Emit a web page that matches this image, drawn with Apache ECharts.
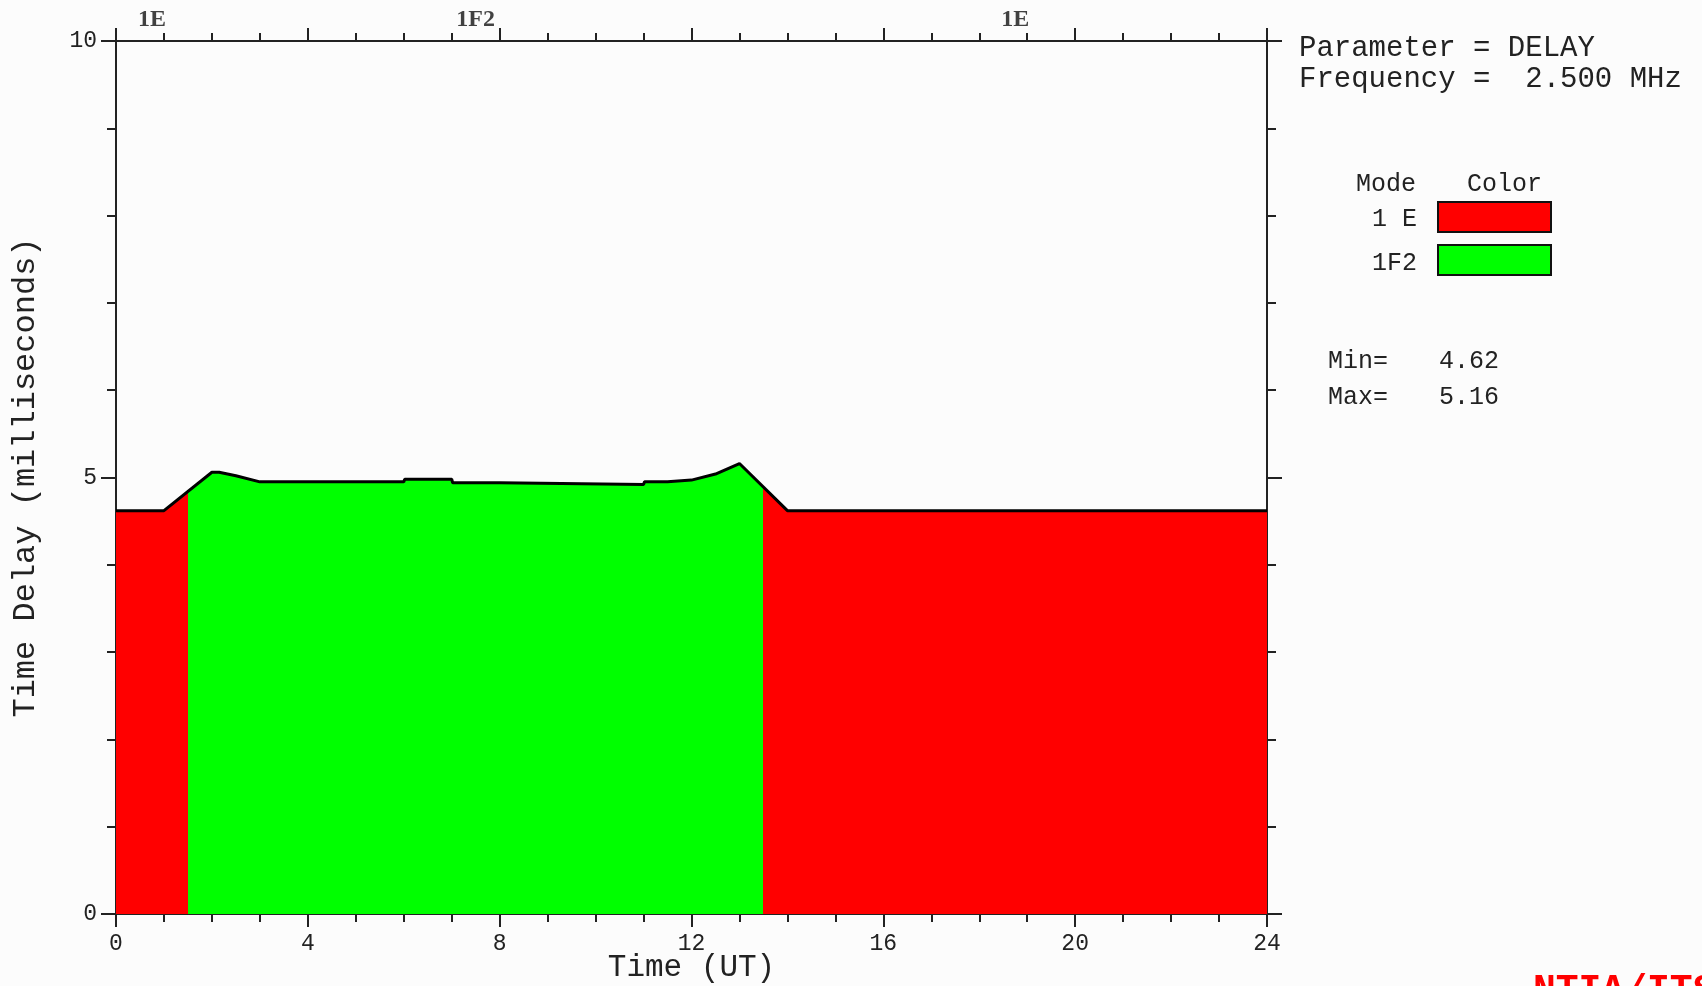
<!DOCTYPE html>
<html>
<head>
<meta charset="utf-8">
<script src="https://cdn.jsdelivr.net/npm/echarts@6/dist/echarts.min.js"></script>
<style>
html,body{margin:0;padding:0;background:#fcfcfc;}
#chart{width:1702px;height:986px;}
</style>
</head>
<body>
<div id="chart"></div>
<script>
// ---- data ----
const hours = [0, 1, 2, 2.15, 2.5, 3, 6, 6.02, 7, 7.02, 8, 8.02, 11, 11.02, 11.5, 11.52, 12, 12.5, 13, 14, 24];
const delay = [4.62, 4.62, 5.06, 5.06, 5.02, 4.95, 4.95, 4.98, 4.98, 4.94, 4.94, 4.92, 4.92, 4.95, 4.95, 4.97, 4.97, 5.04, 5.16, 4.62, 4.62];

const modeLabels = ['1E', '1F2', '1E'];      // labels across the top
const modeStart  = [0, 1.5, 13.5];
const modeEnd    = [1.5, 13.5, 24];
const modeKind   = ['1 E', '1F2', '1 E'];

const legendModes  = ['1 E', '1F2'];
const legendColors = ['#ff0000', '#00ff00'];

const parameterName = 'DELAY';
const frequencyText = '2.500 MHz';
const minValue = '4.62';
const maxValue = '5.16';

const xMin = 0, xMax = 24, xStep = 4;
const yMin = 0, yMax = 10, yStep = 5;

// ---- chart ----
const MONO = '"Liberation Mono", "DejaVu Sans Mono", monospace';
const TXT = '#222';
const colorOf = k => legendColors[legendModes.indexOf(k)];

const chart = echarts.init(document.getElementById('chart'), null, {renderer: 'canvas'});

const tickCommon = {
  axisLine: {show: true, onZero: false, lineStyle: {color: '#222', width: 2}},
  splitLine: {show: false},
  minorSplitLine: {show: false}
};

const option = {
  backgroundColor: '#fcfcfc',
  animation: false,
  grid: {left: 116, right: 435, top: 41, bottom: 72, containLabel: false, outerBoundsMode: 'none'},
  xAxis: [
    Object.assign({
      type: 'value', position: 'bottom', min: xMin, max: xMax, interval: xStep,
      axisTick: {show: true, length: 13, lineStyle: {color: '#222', width: 2}},
      minorTick: {show: true, splitNumber: 4, length: 8, lineStyle: {color: '#222', width: 2}},
      axisLabel: {fontFamily: MONO, fontSize: 23, color: TXT, margin: 18},
      name: 'Time (UT)', nameLocation: 'middle', nameGap: 38, nameMoveOverlap: false,
      nameTextStyle: {fontFamily: MONO, fontSize: 31, color: TXT}
    }, tickCommon),
    Object.assign({
      type: 'value', position: 'top', min: xMin, max: xMax, interval: xStep,
      axisTick: {show: true, length: 13, lineStyle: {color: '#222', width: 2}},
      minorTick: {show: true, splitNumber: 4, length: 8, lineStyle: {color: '#222', width: 2}},
      axisLabel: {show: false}
    }, tickCommon)
  ],
  yAxis: [
    Object.assign({
      type: 'value', position: 'left', min: yMin, max: yMax, interval: yStep,
      axisTick: {show: true, length: 15, lineStyle: {color: '#222', width: 2}},
      minorTick: {show: true, splitNumber: 5, length: 9, lineStyle: {color: '#222', width: 2}},
      axisLabel: {fontFamily: MONO, fontSize: 23, color: TXT, margin: 19},
      name: 'Time Delay (milliseconds)', nameLocation: 'middle', nameGap: 74, nameMoveOverlap: false,
      nameTextStyle: {fontFamily: MONO, fontSize: 32, color: TXT}
    }, tickCommon),
    Object.assign({
      type: 'value', position: 'right', min: yMin, max: yMax, interval: yStep,
      axisTick: {show: true, length: 15, lineStyle: {color: '#222', width: 2}},
      minorTick: {show: true, splitNumber: 5, length: 9, lineStyle: {color: '#222', width: 2}},
      axisLabel: {show: false}
    }, tickCommon)
  ],
  visualMap: {
    type: 'piecewise', show: false, dimension: 0, seriesIndex: 0,
    pieces: modeStart.map((s, i) => ({
      gte: s, lt: (i === modeStart.length - 1 ? modeEnd[i] + 0.001 : modeEnd[i]),
      color: colorOf(modeKind[i])
    }))
  },
  series: [
    {
      type: 'line',
      xAxisIndex: 0, yAxisIndex: 0,
      data: hours.map((h, i) => [h, delay[i]]),
      symbol: 'none', showSymbol: false,
      lineStyle: {color: '#000', width: 3},
      areaStyle: {opacity: 1},
      silent: true, z: 2
    },
    {
      type: 'scatter',
      xAxisIndex: 0, yAxisIndex: 0,
      symbolSize: 0, silent: true,
      data: modeLabels.map((m, i) => ({name: m, value: [(modeStart[i] + modeEnd[i]) / 2, yMax]})),
      label: {
        show: true, position: 'top', distance: 9, formatter: '{b}',
        fontFamily: '"Liberation Serif", "DejaVu Serif", serif', fontWeight: 'bold',
        fontSize: 24, color: '#111'
      },
      z: 5
    }
  ],
  graphic: [
    {type: 'text', left: 1299, top: 34, style: {text: 'Parameter = ' + parameterName, font: '29px ' + MONO, fill: TXT}},
    {type: 'text', left: 1299, top: 65, style: {text: 'Frequency =  ' + frequencyText, font: '29px ' + MONO, fill: TXT}},
    {type: 'text', left: 1356, top: 172, style: {text: 'Mode', font: '25px ' + MONO, fill: TXT}},
    {type: 'text', left: 1467, top: 172, style: {text: 'Color', font: '25px ' + MONO, fill: TXT}},
    {type: 'text', left: 1372, top: 207, style: {text: legendModes[0], font: '25px ' + MONO, fill: TXT}},
    {type: 'text', left: 1372, top: 251, style: {text: legendModes[1], font: '25px ' + MONO, fill: TXT}},
    {type: 'rect', shape: {x: 1438, y: 202, width: 113, height: 30}, style: {fill: legendColors[0], stroke: '#111', lineWidth: 2}},
    {type: 'rect', shape: {x: 1438, y: 245, width: 113, height: 30}, style: {fill: legendColors[1], stroke: '#111', lineWidth: 2}},
    {type: 'text', left: 1328, top: 349, style: {text: 'Min=', font: '25px ' + MONO, fill: TXT}},
    {type: 'text', left: 1439, top: 349, style: {text: minValue, font: '25px ' + MONO, fill: TXT}},
    {type: 'text', left: 1328, top: 385, style: {text: 'Max=', font: '25px ' + MONO, fill: TXT}},
    {type: 'text', left: 1439, top: 385, style: {text: maxValue, font: '25px ' + MONO, fill: TXT}},
    {type: 'text', left: 1533, top: 972, style: {text: 'NTIA/ITS', font: 'bold 38px ' + MONO, fill: '#ff0000'}}
  ]
};

chart.setOption(option);
</script>
</body>
</html>
